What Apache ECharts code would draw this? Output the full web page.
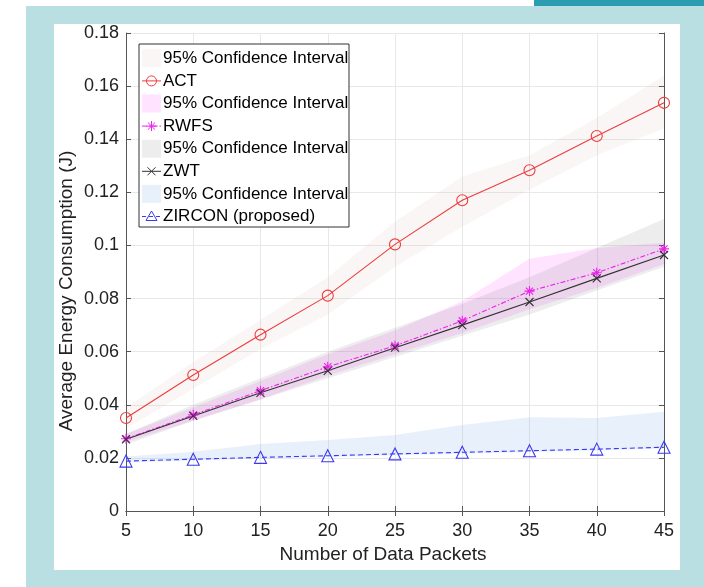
<!DOCTYPE html>
<html><head><meta charset="utf-8">
<script src="https://cdn.jsdelivr.net/npm/echarts@6/dist/echarts.min.js"></script>
<style>
html,body{margin:0;padding:0;background:#fff;}
#bg{position:absolute;left:26px;top:6px;width:678px;height:581px;background:#b9dfe2;}
#strip{position:absolute;left:534px;top:0;width:170px;height:6px;background:#2a9db0;}
#panel{position:absolute;left:54px;top:24px;width:626px;height:546px;background:#fff;}
#chart{position:absolute;left:0;top:0;width:704px;height:587px;}
</style></head><body>
<div id="bg"></div><div id="strip"></div><div id="panel"></div><div id="chart"></div>
<script>
// ---- data ----
const packets = [5, 10, 15, 20, 25, 30, 35, 40, 45];
const actMean   = [0.0350, 0.0512, 0.0664, 0.0811, 0.1004, 0.1170, 0.1283, 0.1412, 0.1537];
const actUpper  = [0.0390, 0.0560, 0.0720, 0.0880, 0.1090, 0.1260, 0.1340, 0.1480, 0.1640];
const actLower  = [0.0310, 0.0460, 0.0610, 0.0740, 0.0920, 0.1070, 0.1210, 0.1340, 0.1440];
const rwfsMean  = [0.0272, 0.0362, 0.0453, 0.0543, 0.0622, 0.0716, 0.0828, 0.0897, 0.0987];
const rwfsUpper = [0.0290, 0.0390, 0.0490, 0.0590, 0.0680, 0.0790, 0.0950, 0.0990, 0.1010];
const rwfsLower = [0.0260, 0.0340, 0.0420, 0.0510, 0.0590, 0.0670, 0.0760, 0.0840, 0.0930];
const zwtMean   = [0.0270, 0.0358, 0.0445, 0.0528, 0.0615, 0.0700, 0.0787, 0.0876, 0.0964];
const zwtUpper  = [0.0290, 0.0400, 0.0500, 0.0600, 0.0690, 0.0780, 0.0880, 0.0990, 0.1100];
const zwtLower  = [0.0250, 0.0340, 0.0420, 0.0500, 0.0580, 0.0660, 0.0740, 0.0830, 0.0920];
const zirMean   = [0.0188, 0.0195, 0.0202, 0.0208, 0.0215, 0.0221, 0.0227, 0.0233, 0.0240];
const zirUpper  = [0.0205, 0.0223, 0.0252, 0.0267, 0.0286, 0.0324, 0.0353, 0.0350, 0.0374];
const zirLower  = [0.0183, 0.0190, 0.0197, 0.0203, 0.0210, 0.0216, 0.0222, 0.0228, 0.0235];
const legendLabels = ['95% Confidence Interval', 'ACT', '95% Confidence Interval', 'RWFS',
                      '95% Confidence Interval', 'ZWT', '95% Confidence Interval', 'ZIRCON (proposed)'];
const xTitle = 'Number of Data Packets';
const yTitle = 'Average Energy Consumption (J)';
const xTicks = [5, 45, 5];      // min, max, interval
const yTicks = [0, 0.18, 0.02]; // min, max, interval

// ---- styles ----
const FONT = 'Liberation Sans, Arial, sans-serif';
const C = {
  actBand: 'rgba(205,150,140,0.09)', act: '#ee3c3c',
  rwfsBand: 'rgba(255,70,255,0.15)', rwfs: '#ee22ee',
  zwtBand: 'rgba(90,90,90,0.11)', zwt: '#333333',
  zirBand: 'rgba(140,180,235,0.2)', zir: '#3a3af0'
};
const STAR = 'path://M0,-5L0,5M-5,0L5,0M-3.6,-3.6L3.6,3.6M-3.6,3.6L3.6,-3.6';
const CROSS = 'path://M-4,-4L4,4M-4,4L4,-4';

function bandSeries(upper, lower, color) {
  return {
    type: 'custom', silent: true, clip: true,
    data: packets.map((x, i) => [x, lower[i], upper[i]]),
    encode: { x: 0, y: [1, 2] },
    renderItem: function (params, api) {
      if (params.dataIndex !== 0) return null;
      const pts = [];
      for (let i = 0; i < packets.length; i++) pts.push(api.coord([packets[i], upper[i]]));
      for (let i = packets.length - 1; i >= 0; i--) pts.push(api.coord([packets[i], lower[i]]));
      return { type: 'polygon', shape: { points: pts }, style: { fill: color } };
    }
  };
}
function lineSeries(name, vals, color, symbol, size, type) {
  return {
    type: 'line', name: name, silent: true,
    data: packets.map((x, i) => [x, vals[i]]),
    symbol: symbol, symbolSize: size, showAllSymbol: true,
    lineStyle: { color: color, width: 1.1, type: type },
    itemStyle: { color: 'rgba(0,0,0,0)', borderColor: color, borderWidth: 1.1 },
    animation: false
  };
}

// ---- legend (graphic) ----
const LX = 139, LY = 44, LW = 210, LH = 183, ROW = 22.6, R0 = 58.3, ZL = 100;
const legendChildren = [{ type: 'rect', z: ZL, shape: { x: LX, y: LY, width: LW, height: LH },
  style: { fill: '#fff', stroke: '#333', lineWidth: 1 } }];
const kinds = [
  { k: 'patch', c: C.actBand }, { k: 'line', c: C.act, m: 'circle', d: null },
  { k: 'patch', c: C.rwfsBand }, { k: 'line', c: C.rwfs, m: 'star', d: [5, 2, 1.5, 2] },
  { k: 'patch', c: C.zwtBand }, { k: 'line', c: C.zwt, m: 'cross', d: null },
  { k: 'patch', c: C.zirBand }, { k: 'line', c: C.zir, m: 'tri', d: [4, 3] }
];
function seg(mx, cy, s, c) {
  return { type: 'line', z: ZL + 2, shape: { x1: mx + s[0], y1: cy + s[1], x2: mx + s[2], y2: cy + s[3] }, style: { stroke: c, lineWidth: 1 } };
}
legendLabels.forEach((lab, i) => {
  const cy = R0 + i * ROW, it = kinds[i];
  if (it.k === 'patch') {
    legendChildren.push({ type: 'rect', z: ZL + 1, shape: { x: 142, y: cy - 9, width: 19, height: 18 }, style: { fill: it.c } });
  } else {
    legendChildren.push({ type: 'line', z: ZL + 1, shape: { x1: 142, y1: cy, x2: 161, y2: cy },
      style: { stroke: it.c, lineWidth: 1, lineDash: it.d } });
    const mx = 151.5;
    if (it.m === 'circle') legendChildren.push({ type: 'circle', z: ZL + 2, shape: { cx: mx, cy: cy, r: 5 }, style: { fill: 'rgba(0,0,0,0)', stroke: it.c, lineWidth: 1 } });
    if (it.m === 'tri') legendChildren.push({ type: 'polygon', z: ZL + 2, shape: { points: [[mx, cy - 5.5], [mx - 5.5, cy + 4], [mx + 5.5, cy + 4]] }, style: { fill: 'rgba(0,0,0,0)', stroke: it.c, lineWidth: 1 } });
    if (it.m === 'star') [[0, -5, 0, 5], [-5, 0, 5, 0], [-3.6, -3.6, 3.6, 3.6], [-3.6, 3.6, 3.6, -3.6]].forEach(s => legendChildren.push(seg(mx, cy, s, it.c)));
    if (it.m === 'cross') [[-4, -4, 4, 4], [-4, 4, 4, -4]].forEach(s => legendChildren.push(seg(mx, cy, s, it.c)));
  }
  legendChildren.push({ type: 'text', z: ZL + 2, x: 163, y: cy, style: { text: lab, font: '17px ' + FONT, fill: '#000', verticalAlign: 'middle', align: 'left' } });
});
const titles = [
  { type: 'text', z: ZL, x: 383, y: 555, style: { text: xTitle, font: '19px ' + FONT, fill: '#222', align: 'center', verticalAlign: 'middle' } },
  { type: 'text', z: ZL, x: 67, y: 291, rotation: Math.PI / 2, style: { text: yTitle, font: '19px ' + FONT, fill: '#222', align: 'center', verticalAlign: 'middle' } }
];

const axisLineStyle = { lineStyle: { color: '#555', width: 1 } };
const fmtY = v => String(parseFloat(v.toFixed(2)));
const chart = echarts.init(document.getElementById('chart'), null, { renderer: 'canvas' });
chart.setOption({
  animation: false,
  grid: { left: 126, right: 40, top: 33, bottom: 76 },
  xAxis: [
    { type: 'value', min: xTicks[0], max: xTicks[1], interval: xTicks[2], position: 'bottom',
      axisLine: axisLineStyle, axisTick: { inside: true, length: 5, lineStyle: { color: '#555' } },
      axisLabel: { color: '#222', fontSize: 18, fontFamily: FONT, margin: 11 },
      splitLine: { show: true, lineStyle: { color: '#e8e8e8', width: 1 } } },
    { type: 'value', min: xTicks[0], max: xTicks[1], interval: xTicks[2], position: 'top',
      axisLine: axisLineStyle, axisTick: { inside: true, length: 5, lineStyle: { color: '#555' } },
      axisLabel: { show: false }, splitLine: { show: false } }
  ],
  yAxis: [
    { type: 'value', min: yTicks[0], max: yTicks[1], interval: yTicks[2], position: 'left',
      axisLine: { show: true, lineStyle: { color: '#555', width: 1 } },
      axisTick: { show: true, inside: true, length: 5, lineStyle: { color: '#555' } },
      axisLabel: { color: '#222', fontSize: 18, fontFamily: FONT, margin: 7, formatter: fmtY },
      splitLine: { show: true, lineStyle: { color: '#e8e8e8', width: 1 } } },
    { type: 'value', min: yTicks[0], max: yTicks[1], interval: yTicks[2], position: 'right',
      axisLine: { show: true, lineStyle: { color: '#555', width: 1 } },
      axisTick: { show: true, inside: true, length: 5, lineStyle: { color: '#555' } },
      axisLabel: { show: false }, splitLine: { show: false } }
  ],
  series: [
    bandSeries(actUpper, actLower, C.actBand),
    lineSeries('ACT', actMean, C.act, 'circle', 11, 'solid'),
    bandSeries(rwfsUpper, rwfsLower, C.rwfsBand),
    lineSeries('RWFS', rwfsMean, C.rwfs, STAR, 10, [5, 2, 1.5, 2]),
    bandSeries(zwtUpper, zwtLower, C.zwtBand),
    lineSeries('ZWT', zwtMean, C.zwt, CROSS, 8, 'solid'),
    bandSeries(zirUpper, zirLower, C.zirBand),
    lineSeries('ZIRCON (proposed)', zirMean, C.zir, 'triangle', 12, [5, 3])
  ],
  graphic: { elements: legendChildren.concat(titles) }
});
</script>
</body></html>
